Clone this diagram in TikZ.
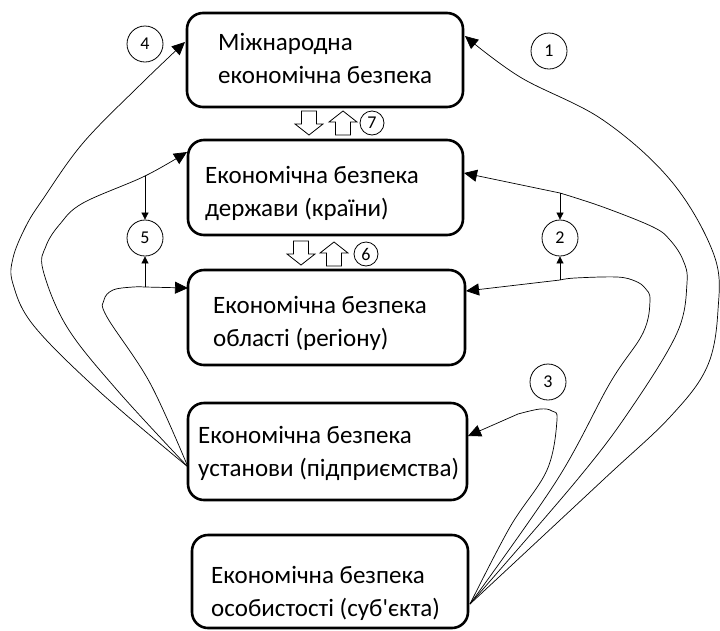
\documentclass[tikz,border=0pt]{standalone}
\usepackage{fontspec}
\setmainfont{Carlito}[Ligatures=TeXOff]
\usetikzlibrary{arrows.meta,calc}
\begin{document}
\begin{tikzpicture}[x=1pt,y=-1pt,
 box/.style={draw, line width=2.6pt, rounded corners=16pt, inner sep=0pt},
 txt/.style={anchor=base west, align=left, inner sep=0pt, font=\fontsize{25}{33}\selectfont},
 num/.style={draw, circle, line width=0.8pt, minimum size=36pt, inner sep=0pt, font=\fontsize{18}{18}\selectfont},
 snum/.style={draw, circle, line width=0.8pt, minimum size=24pt, inner sep=0pt, font=\fontsize{18}{18}\selectfont},
 conn/.style={line width=0.7pt, -{Triangle[length=13pt,width=12pt]}},
 tick/.style={line width=0.7pt, -{Triangle[length=7pt,width=7pt]}},
 blockdown/.pic={\draw[line width=0.8pt, fill=white] (-7.5,-13)--(7.5,-13)--(7.5,0)--(14,0)--(0,11)--(-14,0)--(-7.5,0)--cycle;}
]
\useasboundingbox (0,0) rectangle (720,630);
% boxes
\node[box, minimum width=276pt, minimum height=94pt] (b1) at (325,60) {};
\node[box, minimum width=275pt, minimum height=95pt] (b2) at (325.5,187.5) {};
\node[box, minimum width=277pt, minimum height=95pt] (b3) at (326.5,317.5) {};
\node[box, minimum width=279pt, minimum height=97pt] (b4) at (327.5,451.5) {};
\node[box, minimum width=276pt, minimum height=93pt] (b5) at (330,581.5) {};
% texts (anchor = baseline of the last line)
\node[txt] (t1) at (218,83) {Міжнародна\\економічна безпека};
\node[txt] (t2) at (205,216) {Економічна безпека\\держави (країни)};
\node[txt] (t3) at (213,346) {Економічна безпека\\області (регіону)};
\node[txt] (t4) at (198,476) {Економічна безпека\\установи (підприємства)};
\node[txt] (t5) at (211,616) {Економічна безпека\\особистості (суб'єкта)};
% block arrows and small circles
\pic (d1) at (309,124) {blockdown};
\pic[rotate=180] (u1) at (343,122) {blockdown};
\node[snum] (c7) at (372,123) {7};
\pic (d2) at (301,254) {blockdown};
\pic[rotate=180] (u2) at (334,253) {blockdown};
\node[snum] (c6) at (366,254) {6};
% numbered circles
\node[num] (c1) at (549,51) {1};
\node[num] (c2) at (560,238) {2};
\node[num] (c3) at (548,382) {3};
\node[num] (c4) at (145,44) {4};
\node[num] (c5) at (145,238) {5};
% connection points
\coordinate (L0) at (188,467);
\coordinate (R0) at (470,604);
\coordinate (E4) at (185,42);
\coordinate (E5a) at (187,152);
\coordinate (E5b) at (188,288);
\coordinate (E1) at (465,36);
\coordinate (E2a) at (464,173);
\coordinate (E2b) at (466,291);
\coordinate (E3) at (468,436);
\coordinate (J5a) at (145,176);
\coordinate (J5b) at (145,287);
\coordinate (J2a) at (560,193);
\coordinate (J2b) at (560,280);
% left curves
\draw[conn] plot[smooth, tension=0.6] coordinates {(L0) (100,392) (34,326) (13,284) (13,258) (26,226) (43,199) (83,143) (140,85) (E4)};
\draw[conn] plot[smooth, tension=0.6] coordinates {(L0) (117,390) (67,327) (43,270) (46,246) (60,224) (83,203) (J5a) (E5a)};
\draw[conn] plot[smooth, tension=0.6] coordinates {(L0) (150,383) (107,317) (104,300) (113,290) (133,287) (J5b)} -- (E5b);
% right curves
\draw[conn] plot[smooth, tension=0.6] coordinates {(R0) (510,527) (547,470) (557,420) (552,411) (540,409) (518,414)} -- (E3);
\draw[conn] plot[smooth, tension=0.6] coordinates {(R0) (557,480) (610,383) (643,333) (650,300) (645,288) (635,281) (617,277) (575,278) (J2b)} -- (E2b);
\draw[conn] plot[smooth, tension=0.6] coordinates {(R0) (577,480) (630,410) (677,333) (687,283) (683,260) (670,240) (653,227) (603,207) (J2a)} -- (E2a);
\draw[conn] plot[smooth, tension=0.6] coordinates {(R0) (603,480) (670,417) (707,367) (718,310) (714,255) (672,182) (603,120) (520,77) (E1)};
% ticks to circles
\draw[tick] (J5a) -- (c5);
\draw[tick] (J5b) -- (c5);
\draw[tick] (J2a) -- (c2);
\draw[tick] (J2b) -- (c2);
\end{tikzpicture}
\end{document}
